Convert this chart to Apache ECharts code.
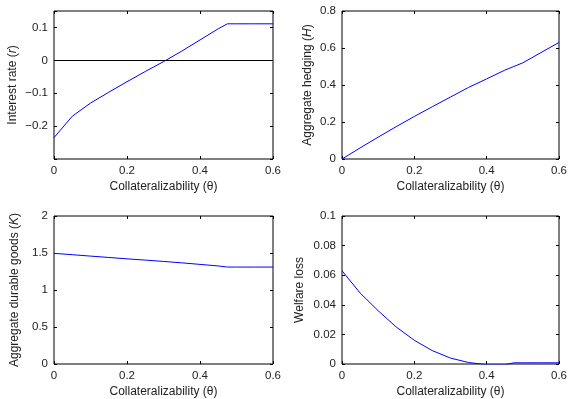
<!DOCTYPE html>
<html>
<head>
<meta charset="utf-8">
<script src="https://cdn.jsdelivr.net/npm/echarts@6/dist/echarts.min.js"></script>
<style>
  html, body { margin: 0; padding: 0; background: #fff; }
  #chart { width: 570px; height: 399px; }
</style>
</head>
<body>
<div id="chart"></div>
<script>
// collateralizability grid (x values shared by all panels)
const theta = [0, 0.05, 0.1, 0.15, 0.2, 0.25, 0.3, 0.35, 0.4, 0.45, 0.475, 0.5, 0.55, 0.6];

// panel series
const interestRate = [-0.235, -0.17, -0.13, -0.097, -0.065, -0.034, -0.004, 0.028, 0.062, 0.096, 0.111, 0.111, 0.111, 0.111];
const hedging = [0, 0.06, 0.118, 0.175, 0.23, 0.283, 0.335, 0.387, 0.433, 0.48, 0.5, 0.52, 0.575, 0.63];
const durableGoods = [1.495, 1.477, 1.458, 1.44, 1.421, 1.404, 1.386, 1.367, 1.346, 1.325, 1.31, 1.31, 1.31, 1.31];
const welfareLoss = [0.063, 0.048, 0.036, 0.025, 0.016, 0.009, 0.004, 0.001, -0.0005, -0.0005, 0.0008, 0.0008, 0.0008, 0.0008];

const xTitle = 'Collateralizability (\u03b8)';
const panels = [
  { name: 'Interest rate ({i|r})', values: interestRate, min: -0.3, max: 0.15, step: 0.1, gap: 35, hide: [-0.3] },
  { name: 'Aggregate hedging ({i|H})', values: hedging, min: 0, max: 0.8, step: 0.2, gap: 28, hide: [] },
  { name: 'Aggregate durable goods ({i|K})', values: durableGoods, min: 0, max: 2, step: 0.5, gap: 33, hide: [] },
  { name: 'Welfare loss', values: welfareLoss, min: 0, max: 0.1, step: 0.02, gap: 36, hide: [] },
];

const boxes = [
  { left: 54, top: 11, width: 219, height: 148 },
  { left: 342, top: 11, width: 218, height: 148 },
  { left: 54, top: 216, width: 219, height: 149 },
  { left: 342, top: 216, width: 218, height: 149 },
];

const textColor = '#222';
const font = 'Liberation Sans, Arial, sans-serif';
const nameSize = 12;
const tickSize = 11.5;

function fmt(v) {
  const s = String(Math.round(v * 1000) / 1000);
  return s.replace('-', '\u2212');
}

const grid = [];
const xAxis = [];
const yAxis = [];
const series = [];

panels.forEach((p, i) => {
  grid.push(Object.assign({ show: true, borderColor: '#000', borderWidth: 1, backgroundColor: '#fff' }, boxes[i]));

  // bottom x axis with labels
  xAxis.push({
    type: 'value', gridIndex: i, min: 0, max: 0.6, interval: 0.2, position: 'bottom',
    name: xTitle, nameLocation: 'middle', nameGap: 22,
    nameTextStyle: { color: textColor, fontSize: nameSize, fontFamily: font },
    axisLine: { show: false, onZero: false },
    axisTick: { inside: true, length: 3, lineStyle: { color: '#000' } },
    axisLabel: { color: textColor, fontSize: tickSize, fontFamily: font, margin: 6, formatter: fmt },
    splitLine: { show: false },
  });
  // top x axis, ticks only
  xAxis.push({
    type: 'value', gridIndex: i, min: 0, max: 0.6, interval: 0.2, position: 'top',
    axisLine: { show: false, onZero: false },
    axisTick: { inside: true, length: 3, lineStyle: { color: '#000' } },
    axisLabel: { show: false },
    splitLine: { show: false },
  });

  const hideLabel = (v) => {
    const k = Math.round(v / p.step);
    if (Math.abs(k * p.step - v) > 1e-9) return '';
    for (const h of p.hide) if (Math.abs(h - v) < 1e-9) return '';
    return fmt(v);
  };

  yAxis.push({
    type: 'value', gridIndex: i, min: p.min, max: p.max, interval: p.step, position: 'left',
    name: p.name, nameLocation: 'middle', nameRotate: 90, nameGap: p.gap,
    nameTextStyle: {
      color: textColor, fontSize: nameSize, fontFamily: font,
      rich: { i: { fontStyle: 'italic', color: textColor, fontSize: nameSize, fontFamily: font } },
    },
    axisLine: { show: false, onZero: false },
    axisTick: { inside: true, length: 3, lineStyle: { color: '#000' } },
    axisLabel: { color: textColor, fontSize: tickSize, fontFamily: font, margin: 6, formatter: hideLabel },
    splitLine: { show: false },
  });
  yAxis.push({
    type: 'value', gridIndex: i, min: p.min, max: p.max, interval: p.step, position: 'right',
    axisLine: { show: false, onZero: false },
    axisTick: { inside: true, length: 3, lineStyle: { color: '#000' } },
    axisLabel: { show: false },
    splitLine: { show: false },
  });

  const s = {
    type: 'line',
    xAxisIndex: i * 2,
    yAxisIndex: i * 2,
    data: theta.map((t, j) => [t, p.values[j]]),
    symbol: 'none',
    lineStyle: { color: '#0000ff', width: 1 },
    itemStyle: { color: '#0000ff' },
    silent: true,
    animation: false,
  };
  if (i === 0) {
    s.markLine = {
      silent: true, symbol: 'none', label: { show: false },
      lineStyle: { color: '#000', type: 'solid', width: 1 },
      data: [{ yAxis: 0 }],
      animation: false,
    };
  }
  series.push(s);
});

const chart = echarts.init(document.getElementById('chart'));
chart.setOption({
  animation: false,
  backgroundColor: '#fff',
  grid: grid,
  xAxis: xAxis,
  yAxis: yAxis,
  series: series,
});
</script>
</body>
</html>
